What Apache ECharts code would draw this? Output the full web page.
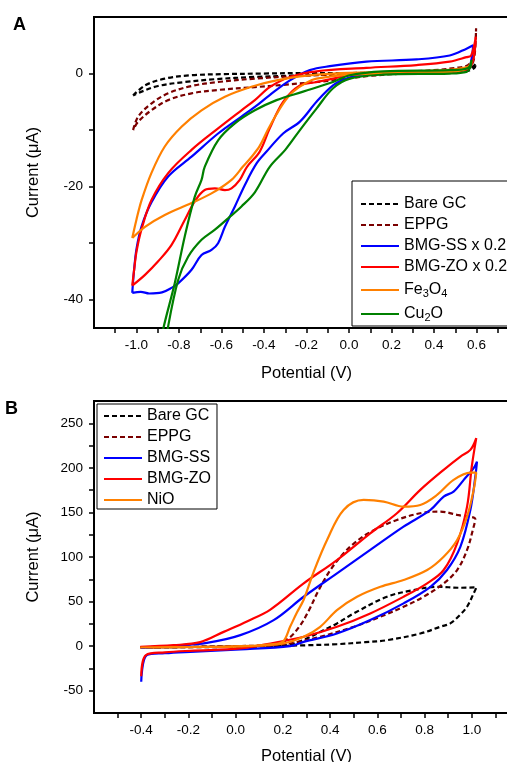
<!DOCTYPE html>
<html>
<head>
<meta charset="utf-8">
<script src="https://cdn.jsdelivr.net/npm/echarts@6/dist/echarts.min.js"></script>
<style>html,body{margin:0;padding:0;background:#fff}#c{width:507px;height:762px}</style>
</head>
<body>
<div id="c"></div>
<script>
// ---------- Panel A data: [potential (V), current (uA)] ----------
const bareGC_A = [[-1.016,-3.9],[-0.96,-2.1],[-0.867,-0.9],[-0.741,-0.3],[-0.584,-0.1],[-0.4,0.0],[-0.2,0.1],[0.0,0.1],[0.2,0.2],[0.4,0.3],[0.5,0.5],[0.56,0.8],[0.585,1.3],[0.597,1.8],[0.59,1.0],[0.55,0.4],[0.4,0.1],[0.2,0.0],[0.08,-0.1],[-0.1,-0.2],[-0.23,-0.35],[-0.443,-0.6],[-0.631,-1.0],[-0.773,-1.5],[-0.898,-2.2],[-0.976,-3.2],[-1.016,-3.9]];
const eppg_A = [[-1.016,-10],[-0.992,-7.6],[-0.93,-5.3],[-0.851,-3.5],[-0.741,-2.2],[-0.616,-1.5],[-0.443,-0.9],[-0.231,-0.4],[0.0,-0.1],[0.2,0.2],[0.4,0.6],[0.5,1.0],[0.56,1.5],[0.587,3.0],[0.598,8.0],[0.59,3.0],[0.57,1.2],[0.5,0.6],[0.3,0.1],[0.1,-0.4],[-0.075,-1.2],[-0.31,-2.0],[-0.443,-2.4],[-0.616,-2.9],[-0.741,-3.5],[-0.851,-4.7],[-0.93,-6.5],[-0.992,-8.5],[-1.016,-10]];
const bmgSS_A = [[-1.02,-38.8],[-0.98,-38.6],[-0.94,-38.9],[-0.88,-38.7],[-0.835,-37.9],[-0.804,-37.1],[-0.741,-34.7],[-0.694,-32.1],[-0.647,-31.2],[-0.616,-30.0],[-0.584,-27.1],[-0.537,-23.5],[-0.49,-19.7],[-0.435,-15.9],[-0.388,-13.8],[-0.31,-10.6],[-0.231,-8.5],[-0.153,-5.0],[-0.075,-2.1],[-0.012,-0.9],[0.082,0.0],[0.239,0.3],[0.474,0.4],[0.56,1.0],[0.577,2.6],[0.584,5.0],[0.553,4.4],[0.474,3.2],[0.318,2.5],[0.082,2.1],[-0.09,1.3],[-0.184,0.6],[-0.278,-1.2],[-0.373,-3.8],[-0.443,-5.9],[-0.506,-7.6],[-0.616,-10.6],[-0.741,-14.7],[-0.851,-18.2],[-0.93,-22.8],[-0.976,-27.0],[-1.0,-31.0],[-1.012,-35.0],[-1.02,-38.8]];
const bmgZO_A = [[-1.02,-37.5],[-0.96,-35.6],[-0.898,-33.2],[-0.835,-30.3],[-0.773,-25.9],[-0.726,-22.6],[-0.679,-20.6],[-0.631,-20.3],[-0.584,-20.6],[-0.553,-20.3],[-0.514,-18.8],[-0.48,-16.5],[-0.42,-13.8],[-0.373,-9.7],[-0.31,-5.0],[-0.231,-2.1],[-0.153,-1.5],[-0.075,-0.9],[0.004,-0.3],[0.16,0.2],[0.474,0.3],[0.56,0.8],[0.585,2.5],[0.597,6.5],[0.575,3.2],[0.553,2.9],[0.474,2.1],[0.318,1.5],[0.082,1.0],[-0.153,0.4],[-0.278,-0.6],[-0.373,-2.4],[-0.443,-4.7],[-0.506,-6.5],[-0.616,-9.7],[-0.741,-13.5],[-0.851,-17.6],[-0.93,-22.4],[-0.976,-27.5],[-1.0,-31.5],[-1.012,-35.0],[-1.02,-37.5]];
const fe3o4_A = [[-1.02,-29.1],[-0.96,-27.1],[-0.867,-25.0],[-0.741,-22.9],[-0.647,-21.2],[-0.553,-18.8],[-0.5,-16.5],[-0.46,-14.8],[-0.42,-12.8],[-0.38,-9.8],[-0.341,-7.2],[-0.3,-4.8],[-0.263,-3.2],[-0.2,-1.6],[-0.153,-0.9],[0.0,-0.2],[0.3,0.0],[0.5,0.4],[0.553,0.9],[0.577,2.1],[0.56,1.2],[0.45,0.6],[0.2,0.3],[-0.075,0.0],[-0.231,-0.5],[-0.341,-1.2],[-0.455,-2.3],[-0.584,-4.1],[-0.694,-6.5],[-0.788,-9.4],[-0.867,-12.9],[-0.93,-17.6],[-0.976,-22.4],[-1.0,-25.8],[-1.02,-29.1]];
const cu2o_A = [[-0.895,-50],[-0.875,-45.3],[-0.82,-37.1],[-0.773,-28.8],[-0.726,-21.8],[-0.694,-18.8],[-0.679,-16.5],[-0.616,-11.8],[-0.537,-8.8],[-0.443,-6.5],[-0.341,-4.7],[-0.216,-3.2],[-0.075,-1.5],[0.004,-0.3],[0.16,0.4],[0.474,0.6],[0.56,1.0],[0.577,2.4],[0.57,1.0],[0.553,0.3],[0.474,0.0],[0.16,-0.2],[0.004,-0.9],[-0.075,-2.6],[-0.153,-6.2],[-0.231,-10.0],[-0.3,-13.5],[-0.373,-16.5],[-0.443,-21.0],[-0.506,-23.5],[-0.569,-25.6],[-0.631,-27.6],[-0.694,-29.4],[-0.757,-32.4],[-0.804,-36.5],[-0.854,-45.3],[-0.87,-50]];

// ---------- Panel B data ----------
const bareGC_B = [[-0.404,-1.5],[-0.2,-1.2],[0.0,-0.8],[0.147,0.0],[0.3,1.0],[0.429,2.2],[0.55,4.5],[0.641,6.7],[0.782,14.2],[0.87,22.0],[0.909,25.5],[0.95,35.0],[0.98,44.2],[1.008,59.2],[1.02,66.0],[0.95,65.5],[0.853,66.6],[0.754,62.9],[0.641,55.4],[0.5,36.7],[0.429,25.5],[0.358,16.0],[0.288,7.0],[0.22,1.5],[0.1,0.0],[-0.1,-0.5],[-0.404,-1.5]];
const eppg_B = [[-0.404,-1.5],[-0.2,-1.0],[0.0,-0.5],[0.15,0.5],[0.22,8],[0.27,22],[0.31,40],[0.35,62],[0.4,85],[0.45,102],[0.5,115],[0.57,128],[0.683,141.6],[0.796,149.8],[0.867,150.9],[0.938,147.2],[1.015,142.4],[1.008,134],[0.98,107.9],[0.938,85.4],[0.881,70.4],[0.796,55.4],[0.711,44.2],[0.613,33],[0.5,21.7],[0.358,10.5],[0.25,4],[0.175,1.5],[0.0,0],[-0.404,-1.5]];
const bmgSS_B = [[-0.4,-40],[-0.376,-10],[-0.3,-8],[-0.192,-6.4],[0.02,-3.7],[0.231,0],[0.288,4.8],[0.429,14.2],[0.57,29.2],[0.711,48],[0.825,66.6],[0.895,85.4],[0.952,111.6],[0.994,152.8],[1.015,190],[1.022,207],[1.008,199.7],[0.966,186.5],[0.923,173.4],[0.881,167.8],[0.825,152.8],[0.711,134],[0.57,107.9],[0.429,81.7],[0.288,55.4],[0.161,29.2],[0.02,12.4],[-0.122,3.7],[-0.263,0.4],[-0.362,-1.0],[-0.4,-2.0]];
const bmgZO_B = [[-0.4,-33.7],[-0.38,-10],[-0.3,-7],[-0.192,-5.2],[0.02,-2.6],[0.147,3],[0.288,10.5],[0.429,21.7],[0.57,36.7],[0.711,55.4],[0.811,70.4],[0.881,85.4],[0.938,115.4],[0.98,156.5],[1.0,201.5],[1.019,233.4],[0.994,220.2],[0.952,212.7],[0.881,197.8],[0.782,175.3],[0.683,149.1],[0.57,126.6],[0.429,96.6],[0.288,70.4],[0.147,41],[0.05,28],[-0.051,16],[-0.15,4.5],[-0.263,1.1],[-0.404,-0.7]];
const nio_B = [[-0.404,-1.5],[-0.2,-1.0],[0.0,-0.5],[0.147,2],[0.2,5],[0.231,22],[0.26,38],[0.288,52],[0.33,83],[0.387,119],[0.457,152.8],[0.542,164],[0.627,162.2],[0.711,156.5],[0.782,158.4],[0.853,169.7],[0.923,186.5],[0.994,194.7],[1.019,194.7],[1.008,175.3],[0.98,145.3],[0.938,119.1],[0.881,100.3],[0.811,85.4],[0.711,74.2],[0.613,66.6],[0.514,55.4],[0.429,40.4],[0.358,21.7],[0.288,10.5],[0.203,3],[0.1,0.5],[-0.1,-0.8],[-0.404,-1.5]];

// ---------- Tick positions and labels ----------
const xLabelsA = [-1.0,-0.8,-0.6,-0.4,-0.2,0.0,0.2,0.4,0.6];
const xTicksA = [-1.1,-1.0,-0.9,-0.8,-0.7,-0.6,-0.5,-0.4,-0.3,-0.2,-0.1,0.0,0.1,0.2,0.3,0.4,0.5,0.6,0.7];
const yLabelsA = [-40,-20,0];
const yTicksA = [-40,-30,-20,-10,0];
const xLabelsB = [-0.4,-0.2,0.0,0.2,0.4,0.6,0.8,1.0];
const xTicksB = [-0.5,-0.4,-0.3,-0.2,-0.1,0.0,0.1,0.2,0.3,0.4,0.5,0.6,0.7,0.8,0.9,1.0,1.1];
const yLabelsB = [-50,0,50,100,150,200,250];
const yTicksB = [-50,-25,0,25,50,75,100,125,150,175,200,225,250];

const namesA = ['Bare GC','EPPG','BMG-SS x 0.2','BMG-ZO x 0.2','Fe3O4','Cu2O'];
const namesB = ['Bare GC','EPPG','BMG-SS','BMG-ZO','NiO'];

const F = '"Liberation Sans", Arial, sans-serif';
const C = {black:'#000000', dred:'#7a0000', blue:'#0000ff', red:'#ff0000', orange:'#ff8000', green:'#008000'};
const DASH = [5,3];

function xAxisCfg(grid, min, max, labels, ticks, gap) {
  return {
    type:'value', gridIndex:grid, min:min, max:max,
    splitLine:{show:false},
    axisLine:{onZero:false, lineStyle:{color:'#000', width:2}},
    axisTick:{customValues:ticks, length:5, lineStyle:{color:'#000', width:1.5}},
    axisLabel:{customValues:labels, formatter:v=>v.toFixed(1), color:'#000', fontSize:13.5, fontFamily:F, margin:10},
    name:'Potential (V)', nameLocation:'middle', nameGap:gap,
    nameTextStyle:{color:'#000', fontSize:16.5, fontFamily:F}
  };
}
function yAxisCfg(grid, min, max, labels, ticks) {
  return {
    type:'value', gridIndex:grid, min:min, max:max,
    splitLine:{show:false},
    axisLine:{onZero:false, lineStyle:{color:'#000', width:2}},
    axisTick:{customValues:ticks, length:5, lineStyle:{color:'#000', width:1.5}},
    axisLabel:{customValues:labels, formatter:v=>String(v), color:'#000', fontSize:13.5, fontFamily:F, margin:11},
    name:'Current (\u03bcA)', nameLocation:'middle', nameGap:52,
    nameTextStyle:{color:'#000', fontSize:16.5, fontFamily:F}
  };
}
function line(name, data, color, dashed, xi) {
  return {
    name:name, type:'line', data:data, xAxisIndex:xi, yAxisIndex:xi,
    symbol:'none', smooth:0.35, clip:true,
    lineStyle:{color:color, width:2.2, type:dashed ? DASH : 'solid'},
    itemStyle:{color:color}
  };
}
const rich = {
  n:{fontSize:16, fontFamily:F, color:'#000', lineHeight:18},
  s:{fontSize:11, fontFamily:F, color:'#000', lineHeight:14, padding:[8,0,0,0], verticalAlign:'bottom'}
};
function fmt(name) {
  if (name === 'Fe3O4') return '{n|Fe}{s|3}{n|O}{s|4}';
  if (name === 'Cu2O') return '{n|Cu}{s|2}{n|O}';
  return '{n|' + name + '}';
}
const legendCommon = {
  orient:'vertical', itemWidth:38, itemHeight:14, itemGap:5,
  borderColor:'#000', borderWidth:1, backgroundColor:'#fff', z:10, selectedMode:false,
  itemStyle:{opacity:0, borderWidth:0},
  formatter:fmt, textStyle:{fontFamily:F, fontSize:16, color:'#000', rich:rich}
};

const chart = echarts.init(document.getElementById('c'), null, {renderer:'canvas'});
chart.setOption({
  animation:false,
  backgroundColor:'#fff',
  grid:[
    {left:94, top:17, width:425, height:311, outerBoundsMode:'none', containLabel:false, show:true, borderColor:'#000', borderWidth:2},
    {left:94, top:401, width:425, height:312, outerBoundsMode:'none', containLabel:false, show:true, borderColor:'#000', borderWidth:2}
  ],
  xAxis:[xAxisCfg(0,-1.2,0.8,xLabelsA,xTicksA,37), xAxisCfg(1,-0.6,1.2,xLabelsB,xTicksB,35)],
  yAxis:[yAxisCfg(0,-45,10,yLabelsA,yTicksA), yAxisCfg(1,-75,275,yLabelsB,yTicksB)],
  legend:[
    Object.assign({left:352, top:181, data:namesA, padding:[15,12,3,8]}, legendCommon),
    Object.assign({left:97, top:404, data:namesB, padding:[4,6,1,6]}, legendCommon)
  ],
  graphic:[
    {type:'text', left:13, top:16, style:{text:'A', font:'bold 18px "Liberation Sans", Arial, sans-serif', fill:'#000'}},
    {type:'text', left:5, top:400, style:{text:'B', font:'bold 18px "Liberation Sans", Arial, sans-serif', fill:'#000'}}
  ],
  series:[
    line('Bare GC', bareGC_A, C.black, true, 0),
    line('EPPG', eppg_A, C.dred, true, 0),
    line('BMG-SS x 0.2', bmgSS_A, C.blue, false, 0),
    line('BMG-ZO x 0.2', bmgZO_A, C.red, false, 0),
    line('Fe3O4', fe3o4_A, C.orange, false, 0),
    line('Cu2O', cu2o_A, C.green, false, 0),
    line('Bare GC', bareGC_B, C.black, true, 1),
    line('EPPG', eppg_B, C.dred, true, 1),
    line('BMG-SS', bmgSS_B, C.blue, false, 1),
    line('BMG-ZO', bmgZO_B, C.red, false, 1),
    line('NiO', nio_B, C.orange, false, 1)
  ]
});
</script>
</body>
</html>
